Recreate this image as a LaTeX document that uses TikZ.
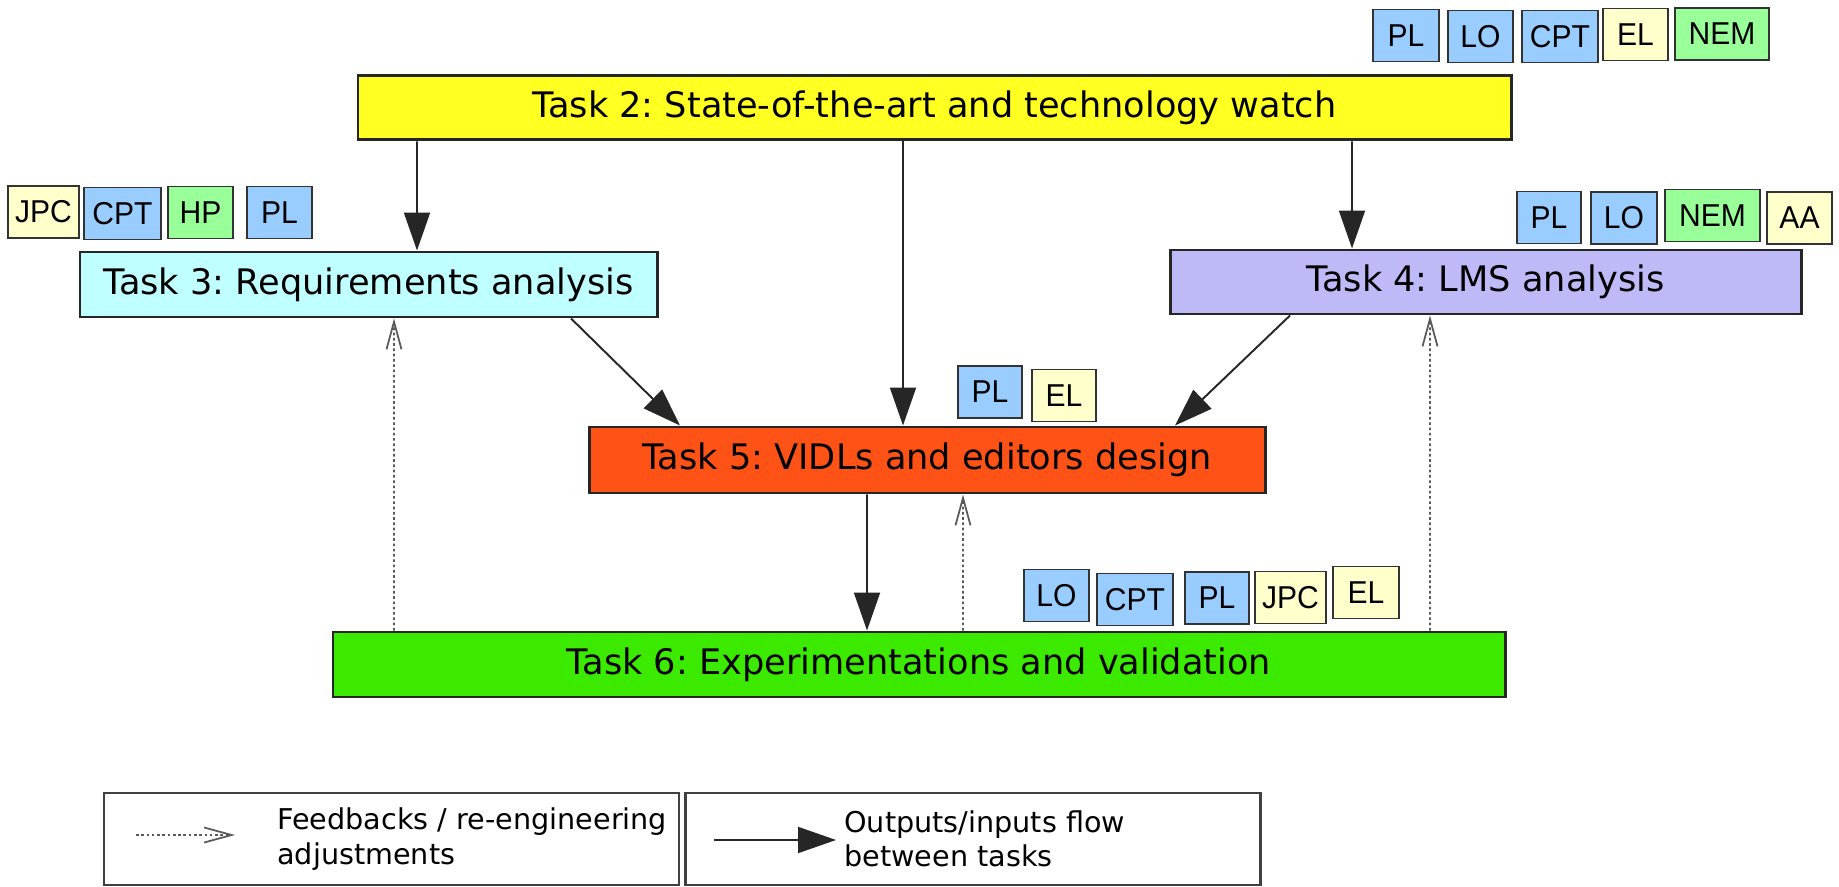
\documentclass[tikz,border=0pt]{standalone}
\usepackage{fontspec}
\setmainfont{DejaVu Sans}
\newfontfamily\partnerfont[FakeStretch=0.95]{Liberation Sans}
\usetikzlibrary{arrows.meta}
\frenchspacing
\definecolor{taskyellow}{HTML}{FFFF22}
\definecolor{taskcyan}{HTML}{C0FFFF}
\definecolor{tasklilac}{HTML}{BEBAF8}
\definecolor{taskorange}{HTML}{FF5216}
\definecolor{taskgreen}{HTML}{3CEA00}
\definecolor{labblue}{HTML}{99CCFF}
\definecolor{labyellow}{HTML}{FFFFCC}
\definecolor{labgreen}{HTML}{99FF99}

\begin{document}
\begin{tikzpicture}[
        task/.style={draw=black!85, line width=1.7pt, inner sep=0pt, font=\fontsize{20}{24}\selectfont},
        partner/.style={draw=black!80, line width=0.8pt, minimum height=1.04cm, inner sep=0pt, font=\partnerfont\fontsize{18}{21}\selectfont},
        lab blue/.style={partner, fill=labblue},
        lab yellow/.style={partner, fill=labyellow},
        lab green/.style={partner, fill=labgreen},
        flow/.style={black!85, line width=1.1pt, -{Triangle[length=0.76cm,width=0.52cm]}},
        feedback/.style={black!65, line width=1pt, dash pattern=on 1.5pt off 1.5pt, -{Straight Barb[length=0.55cm,width=0.3cm]}},
        legendbox/.style={draw=black!75, line width=1.4pt, minimum width=11.5cm, minimum height=1.84cm},
        legendtext/.style={anchor=west, align=left, inner sep=0pt, font=\fontsize{16.3}{19.5}\selectfont}
    ]
        \useasboundingbox (0, 0) rectangle (36.78, 17.72);

        \node[task, fill=taskyellow, minimum width=23.06cm, minimum height=1.28cm] (task2) at (18.69, 15.56) {Task 2: State-of-the-art and technology watch};
        \node[task, fill=taskcyan, minimum width=11.54cm, minimum height=1.3cm] (task3) at (7.37, 12.03) {Task 3: Requirements analysis};
        \node[task, fill=tasklilac, minimum width=12.62cm, minimum height=1.28cm] (task4) at (29.71, 12.08) {Task 4: LMS analysis};
        \node[task, fill=taskorange, minimum width=13.52cm, minimum height=1.32cm] (task5) at (18.54, 8.52) {Task 5: VIDLs and editors design};
        \node[task, fill=taskgreen, minimum width=23.44cm, minimum height=1.3cm] (task6) at (18.38, 4.43) {Task 6: Experimentations and validation};

        \node[lab blue, minimum width=1.32cm] (pl2) at (28.12, 17.01) {PL};
        \node[lab blue, minimum width=1.30cm] (lo2) at (29.61, 16.99) {LO};
        \node[lab blue, minimum width=1.52cm] (cpt2) at (31.20, 16.99) {CPT};
        \node[lab yellow, minimum width=1.30cm] (el2) at (32.71, 17.03) {EL};
        \node[lab green, minimum width=1.88cm] (nem2) at (34.44, 17.04) {NEM};

        \node[lab yellow, minimum width=1.42cm] (jpc3) at (0.87, 13.48) {JPC};
        \node[lab blue, minimum width=1.54cm] (cpt3) at (2.45, 13.45) {CPT};
        \node[lab green, minimum width=1.30cm] (hp3) at (4.01, 13.47) {HP};
        \node[lab blue, minimum width=1.30cm] (pl3) at (5.59, 13.47) {PL};

        \node[lab blue, minimum width=1.28cm] (pl4) at (30.98, 13.37) {PL};
        \node[lab blue, minimum width=1.32cm] (lo4) at (32.48, 13.36) {LO};
        \node[lab green, minimum width=1.90cm] (nem4) at (34.25, 13.41) {NEM};
        \node[lab yellow, minimum width=1.30cm] (aa4) at (35.99, 13.36) {AA};

        \node[lab blue, minimum width=1.28cm] (pl5) at (19.80, 9.88) {PL};
        \node[lab yellow, minimum width=1.28cm] (el5) at (21.28, 9.81) {EL};

        \node[lab blue, minimum width=1.30cm] (lo6) at (21.13, 5.81) {LO};
        \node[lab blue, minimum width=1.52cm] (cpt6) at (22.70, 5.73) {CPT};
        \node[lab blue, minimum width=1.28cm] (pl6) at (24.34, 5.76) {PL};
        \node[lab yellow, minimum width=1.42cm] (jpc6) at (25.81, 5.77) {JPC};
        \node[lab yellow, minimum width=1.32cm] (el6) at (27.32, 5.87) {EL};

        \draw[flow] ([xshift=-10.35cm]task2.south) -- ([xshift=0.97cm]task3.north);
        \draw[flow] ([xshift=-0.63cm]task2.south) -- ([xshift=-0.48cm]task5.north);
        \draw[flow] ([xshift=8.35cm]task2.south) -- ([xshift=-2.67cm]task4.north);
        \draw[flow] ([xshift=4.05cm]task3.south) -- ([xshift=-4.94cm]task5.north);
        \draw[flow] ([xshift=-3.91cm]task4.south) -- ([xshift=4.96cm]task5.north);
        \draw[flow] ([xshift=-1.2cm]task5.south) -- ([xshift=-1.04cm]task6.north);
        \draw[feedback] ([xshift=0.88cm]task6.north) -- ([xshift=0.72cm]task5.south);
        \draw[feedback] ([xshift=-10.5cm]task6.north) -- ([xshift=0.51cm]task3.south);
        \draw[feedback] ([xshift=10.22cm]task6.north) -- ([xshift=-1.11cm]task4.south);

        \node[legendbox] (legendfb) at (7.83, 0.94) {};
        \node[legendbox] (legendflow) at (19.46, 0.94) {};
        \coordinate (fbfrom) at (2.72, 1.02);
        \coordinate (fbto) at (4.70, 1.02);
        \coordinate (flowfrom) at (14.28, 0.92);
        \coordinate (flowto) at (16.72, 0.92);
        \draw[feedback] (fbfrom) -- (fbto);
        \draw[flow] (flowfrom) -- (flowto);
        \node[legendtext] (fbtext) at (5.54, 0.94) {Feedbacks / re-engineering\\adjustments};
        \node[legendtext] (flowtext) at (16.88, 0.94) {Outputs/inputs flow\\between tasks};

    \end{tikzpicture}
\end{document}
